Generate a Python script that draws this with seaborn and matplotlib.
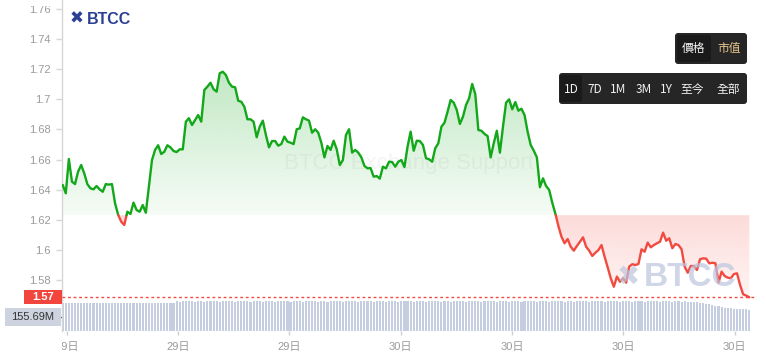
import numpy as np
import matplotlib
matplotlib.use("Agg")
import matplotlib.pyplot as plt
import seaborn as sns
from matplotlib.patches import FancyBboxPatch, Rectangle
from matplotlib.path import Path
from matplotlib.transforms import Bbox, IdentityTransform, blended_transform_factory
from matplotlib.ticker import FuncFormatter

# ---------------- data ----------------
price = [
    1.6432, 1.6377, 1.6604, 1.6454, 1.6438, 1.6520, 1.6564, 1.6509, 1.6438, 1.6410,
    1.6403, 1.6425, 1.6403, 1.6387, 1.6438, 1.6434, 1.6438, 1.6311, 1.6235, 1.6189,
    1.6167, 1.6255, 1.6240, 1.6315, 1.6266, 1.6255, 1.6299, 1.6248, 1.6421, 1.6597,
    1.6664, 1.6695, 1.6637, 1.6652, 1.6695, 1.6681, 1.6657, 1.6650, 1.6668, 1.6668,
    1.6851, 1.6874, 1.6829, 1.6862, 1.6895, 1.6851, 1.7061, 1.7083, 1.7109, 1.7066,
    1.7050, 1.7172, 1.7182, 1.7160, 1.7109, 1.7083, 1.7079, 1.6990, 1.6983, 1.6950,
    1.6867, 1.6867, 1.6851, 1.6748, 1.6818, 1.6858, 1.6763, 1.6681, 1.6723, 1.6723,
    1.6692, 1.6703, 1.6752, 1.6719, 1.6712, 1.6703, 1.6801, 1.6807, 1.6880, 1.6867,
    1.6858, 1.6778, 1.6801, 1.6778, 1.6712, 1.6615, 1.6690, 1.6664, 1.6725, 1.6668,
    1.6564, 1.6597, 1.6763, 1.6801, 1.6646, 1.6664, 1.6646, 1.6615, 1.6558, 1.6542,
    1.6544, 1.6487, 1.6491, 1.6474, 1.6553, 1.6542, 1.6586, 1.6584, 1.6553, 1.6586,
    1.6597, 1.6551, 1.6685, 1.6785, 1.6659, 1.6725, 1.6723, 1.6697, 1.6609, 1.6602,
    1.6586, 1.6675, 1.6708, 1.6818, 1.6844, 1.6917, 1.6995, 1.6977, 1.6928, 1.6836,
    1.6884, 1.6962, 1.7006, 1.7101, 1.7034, 1.6796, 1.6791, 1.6770, 1.6756, 1.6615,
    1.6708, 1.6791, 1.6646, 1.6818, 1.6977, 1.6999, 1.6933, 1.6981, 1.6924, 1.6937,
    1.6895, 1.6785, 1.6697, 1.6659, 1.6615, 1.6417, 1.6476, 1.6425, 1.6399, 1.6315,
    1.6244, 1.6160, 1.6089, 1.6046, 1.6074, 1.6023, 1.5997, 1.6028, 1.6056, 1.6085,
    1.6023, 1.5997, 1.5962, 1.5983, 1.6001, 1.6034, 1.5957, 1.5887, 1.5814, 1.5758,
    1.5825, 1.5791, 1.5814, 1.5785, 1.5891, 1.5907, 1.5902, 1.5909, 1.6006, 1.5990,
    1.6050, 1.6019, 1.6034, 1.6046, 1.6056, 1.6116, 1.6063, 1.6079, 1.6013, 1.6041,
    1.6034, 1.6006, 1.5891, 1.5851, 1.5895, 1.5895, 1.5869, 1.5940, 1.5946, 1.5944,
    1.5913, 1.5917, 1.5913, 1.5785, 1.5858, 1.5829, 1.5818, 1.5814, 1.5842, 1.5847,
    1.5770, 1.5708, 1.5699, 1.5688,
]

volume_m = [
    161.6, 161.5, 161.6, 161.7, 161.6, 161.6, 161.5, 161.6,
    161.7, 161.6, 161.6, 161.5, 161.6, 161.7, 161.6, 161.6,
    161.5, 161.6, 161.6, 161.7, 161.6, 161.5, 161.6, 161.6,
    161.7, 161.6, 161.6, 161.5, 161.6, 161.6, 161.7, 161.6,
    161.6, 161.5, 161.6, 161.6, 161.7, 162.3, 162.2, 162.3,
    162.3, 162.4, 162.3, 162.2, 162.3, 162.3, 162.2, 162.3,
    162.4, 162.3, 162.3, 162.2, 162.3, 162.4, 162.3, 162.3,
    162.2, 162.3, 162.3, 162.4, 162.3, 162.2, 162.3, 162.3,
    162.3, 162.2, 162.4, 162.3, 162.3, 162.2, 162.3, 162.4,
    162.3, 162.3, 162.2, 162.3, 162.3, 162.4, 162.2, 162.3,
    162.3, 162.4, 162.3, 162.2, 162.3, 162.3, 162.2, 162.3,
    162.4, 162.3, 162.3, 162.2, 162.3, 162.4, 162.3, 162.3,
    162.2, 162.3, 162.3, 162.4, 162.3, 162.2, 162.3, 162.3,
    162.3, 162.2, 162.4, 162.3, 162.3, 162.2, 162.3, 162.4,
    162.3, 162.3, 162.2, 162.3, 162.3, 162.4, 162.2, 162.3,
    162.3, 162.4, 162.3, 162.2, 162.3, 162.3, 162.2, 162.3,
    162.4, 162.3, 162.3, 162.2, 162.3, 162.4, 162.3, 162.3,
    162.2, 162.3, 162.3, 162.4, 162.3, 162.2, 162.3, 162.3,
    162.3, 162.2, 162.4, 162.3, 162.3, 162.2, 162.3, 162.4,
    162.3, 162.3, 162.2, 162.3, 162.3, 162.4, 162.2, 162.3,
    162.3, 162.4, 162.3, 162.2, 162.3, 162.3, 162.2, 162.3,
    162.4, 162.3, 162.3, 162.2, 162.3, 162.4, 162.3, 162.3,
    162.2, 162.3, 162.3, 162.4, 162.3, 162.2, 162.3, 162.3,
    162.3, 162.2, 162.4, 162.3, 162.3, 162.2, 162.3, 162.4,
    162.3, 162.3, 162.2, 162.3, 162.3, 162.4, 162.2, 162.3,
    162.3, 162.2, 162.3, 162.2, 162.2, 162.1, 162.0, 161.8,
    161.6, 161.4, 161.1, 160.8, 160.5, 160.2, 159.9, 159.7,
    159.5, 159.4, 159.3, 159.2, 159.1, 159.0, 159.0, 158.9,
]

open_price = 1.6232
last_label = "1.57"
volume_label = "155.69M"
volume_tick = 155.69
x_tick_labels = ["29日", "29日", "29日", "30日", "30日", "30日", "30日"]
y_ticks = [1.58, 1.60, 1.62, 1.64, 1.66, 1.68, 1.70, 1.72, 1.74, 1.76]
mode_buttons = ["價格", "市值"]
range_buttons = ["1D", "7D", "1M", "3M", "1Y", "至今", "全部"]
watermark_text = "BTCC Exchange Support"
brand = "BTCC"

# ---------------- style ----------------
sns.set_theme(style="white")
plt.rcParams["font.family"] = ["Liberation Sans", "Noto Sans CJK TC", "DejaVu Sans"]

GREEN = "#12a81a"
RED = "#f14a40"
GREY_TXT = "#9a9a9a"
SPINE = "#d6d6d6"

W, H = 766, 357
fig = plt.figure(figsize=(W / 100, H / 100), dpi=100, facecolor="white")


def fx(px):
    return px / W


def fy(py):
    return 1 - py / H


PLOT_L, PLOT_R = 62, 755
ax = fig.add_axes([fx(PLOT_L), fy(300), fx(PLOT_R) - fx(PLOT_L), fy(0) - fy(300)])
axv = fig.add_axes([fx(PLOT_L), fy(331), fx(PLOT_R) - fx(PLOT_L), fy(300) - fy(331)])
for a in (ax, axv):
    a.set_facecolor("none")

t = np.arange(len(price), dtype=float)
p = np.array(price)

# insert crossing points where the series crosses the opening price
xs, ys = [t[0]], [p[0]]
for i in range(1, len(p)):
    a0, b0 = p[i - 1] - open_price, p[i] - open_price
    if a0 * b0 < 0:
        xs.append(t[i - 1] + a0 / (a0 - b0))
        ys.append(open_price)
    xs.append(t[i])
    ys.append(p[i])
xs, ys = np.array(xs), np.array(ys)


def grad_fill(axis, x, lo, hi, rgb, a_top, a_bot, v_top, v_bot, z):
    coll = axis.fill_between(x, lo, hi, facecolor="none", edgecolor="none", lw=0)
    path = Path.make_compound_path(*coll.get_paths())
    n = 256
    img = np.zeros((n, 1, 4))
    img[:, 0, :3] = matplotlib.colors.to_rgb(rgb)
    img[:, 0, 3] = np.linspace(a_top, a_bot, n)
    im = axis.imshow(img, extent=[x.min(), x.max(), v_bot, v_top], origin="upper",
                     aspect="auto", zorder=z, interpolation="bilinear")
    im.set_clip_path(path, axis.transData)


grad_fill(ax, xs, np.full_like(ys, open_price), np.maximum(ys, open_price), GREEN,
          0.26, 0.04, ys.max(), open_price, 1)
grad_fill(ax, xs, np.minimum(ys, open_price), np.full_like(ys, open_price), RED,
          0.20, 0.06, open_price, ys.min(), 1)

# watermark in the middle
ax.text(0.5, 0.455, watermark_text, transform=ax.transAxes, ha="center", va="center",
        fontsize=16, color="#8a8a8a", alpha=0.09, zorder=2)

# split line into coloured runs
segs = []
cur = [0]
cur_up = ys[0] >= open_price
for k in range(1, len(xs)):
    cur.append(k)
    if np.isclose(ys[k], open_price, atol=1e-9) and k < len(xs) - 1:
        segs.append((cur_up, cur))
        cur = [k]
        cur_up = ys[k + 1] > open_price
segs.append((cur_up, cur))
for up, idx in segs:
    idx = np.array(idx)
    sns.lineplot(x=xs[idx], y=ys[idx], color=GREEN if up else RED, lw=1.7,
                 estimator=None, sort=False, ax=ax, zorder=4)

# last price dashed line
last = p[-1]
ax.axhline(last, color=RED, lw=1.0, ls=(0, (2, 2)), zorder=3)

# volume bars
VOL_MIN, VOL_MAX = 150, 162.9
tv = np.arange(len(volume_m))
sns.barplot(x=tv, y=volume_m, native_scale=True, color="#c5cde0", saturation=1,
            width=0.68, errorbar=None, ax=axv, zorder=2)
for patch in axv.patches:
    top = patch.get_y() + patch.get_height()
    patch.set_y(VOL_MIN)
    patch.set_height(top - VOL_MIN)
    patch.set_linewidth(0)
    patch.set_antialiased(False)

# limits
scale = (749.3 - 62.7) / (len(price) - 1)
xl = -(62.7 - PLOT_L) / scale
xr = xl + (PLOT_R - PLOT_L) / scale
ax.set_xlim(xl, xr)
axv.set_xlim(xl, xr)
ax.set_ylim(1.62 - 80 / 1510, 1.62 + 220 / 1510)
axv.set_ylim(VOL_MIN, VOL_MAX)

# axis styling
for a in (ax, axv):
    for s in ("top", "right", "bottom"):
        a.spines[s].set_visible(False)
    a.spines["left"].set_color(SPINE)
    a.spines["left"].set_linewidth(1)

ax.set_xticks([])
ax.set_yticks(y_ticks)
ax.yaxis.set_major_formatter(FuncFormatter(lambda v, _: f"{v:g}"))
ax.tick_params(axis="y", which="major", left=True, length=4, width=1, color=SPINE,
               labelsize=8, labelcolor=GREY_TXT, pad=4)
ax.set_xlabel("")
ax.set_ylabel("")

tick_pos = 1.3 + 36.15 * np.arange(len(x_tick_labels))
axv.set_xticks(tick_pos)
axv.set_xticklabels(x_tick_labels)
axv.tick_params(axis="x", bottom=True, length=3, width=1, color="#cfcfcf",
                labelsize=8, labelcolor=GREY_TXT, pad=5)
axv.set_yticks([volume_tick])
axv.set_yticklabels([""])
axv.tick_params(axis="y", left=True, length=4, width=1, color="#444444")
axv.set_xlabel("")
axv.set_ylabel("")

# price label box on the axis
bt = blended_transform_factory(fig.transFigure, ax.transData)
hh = 14 / 1510
fig.add_artist(Rectangle((fx(24), last - hh / 2), fx(62) - fx(24), hh, transform=bt,
                         facecolor="#f2453d", edgecolor="none", zorder=10))
fig.text(fx(43), last, last_label, transform=bt, ha="center", va="center",
         fontsize=8, color="white", fontweight="bold", zorder=11)

# volume label box
btv = blended_transform_factory(fig.transFigure, axv.transData)
vh = 18 / ((331 - 300) / (VOL_MAX - VOL_MIN))
fig.add_artist(Rectangle((fx(5), volume_tick - vh / 2), fx(61) - fx(5), vh, transform=btv,
                         facecolor="#cdd3df", edgecolor="none", zorder=10))
fig.text(fx(33), volume_tick, volume_label, transform=btv, ha="center", va="center",
         fontsize=8, color="#333333", zorder=11)

# brand logo top-left
fig.text(fx(77), fy(19), "✖", fontsize=12, color="#2b3f95", ha="center", va="center",
         family="DejaVu Sans", fontweight="bold")
fig.text(fx(87), fy(19), brand, fontsize=11.5, color="#2b3f95", ha="left", va="center",
         fontweight="bold")

# brand watermark bottom-right
fig.text(fx(628), fy(277), "✖", fontsize=20, color="#bcc5de", alpha=0.7, ha="center",
         va="center", family="DejaVu Sans", fontweight="bold", zorder=3)
fig.text(fx(644), fy(277), brand, fontsize=24, color="#bcc5de", alpha=0.7, ha="left",
         va="center", fontweight="bold", zorder=3)

# buttons (pixel coordinates)
tr = IdentityTransform()


def rbox(x0, y0, x1, y1, color, r=3, z=20):
    fig.add_artist(FancyBboxPatch((x0, H - y1), x1 - x0, y1 - y0,
                                  boxstyle=f"round,pad=0,rounding_size={r}",
                                  transform=tr, facecolor=color, edgecolor="none", zorder=z))


BTN_FONT = ["Noto Sans CJK TC", "DejaVu Sans"]
rbox(675, 33, 747, 64, "#262626")
rbox(677, 35, 711, 62, "#1a1a1a", r=2, z=21)
for lbl, cx, col in zip(mode_buttons, [694, 729], ["#f2f2f2", "#e8c88e"]):
    fig.text(cx, H - 48.5, lbl, transform=tr, ha="center", va="center", fontsize=8.5,
             color=col, zorder=22, family=BTN_FONT, fontweight="medium")

rbox(559, 73, 747, 104, "#262626")
rbox(560, 75, 582, 102, "#1a1a1a", r=2, z=21)
for lbl, cx in zip(range_buttons, [571.5, 595, 618.5, 643.5, 666.5, 692, 728.5]):
    fig.text(cx, H - 89.5, lbl, transform=tr, ha="center", va="center", fontsize=8.5,
             color="#f2f2f2", zorder=22, family=BTN_FONT, fontweight="medium")

# clip first x label and top y label as in the reference
fig.canvas.draw()
xt = axv.xaxis.get_major_ticks()[0]
xt.label1.set_clip_box(Bbox.from_extents(PLOT_L, 0, W, H))
xt.label1.set_clip_on(True)
for tk in ax.yaxis.get_major_ticks():
    tk.label1.set_clip_box(Bbox.from_extents(0, 0, W, H - 6))
    tk.label1.set_clip_on(True)

fig.savefig("out.png", dpi=100, facecolor="white")
